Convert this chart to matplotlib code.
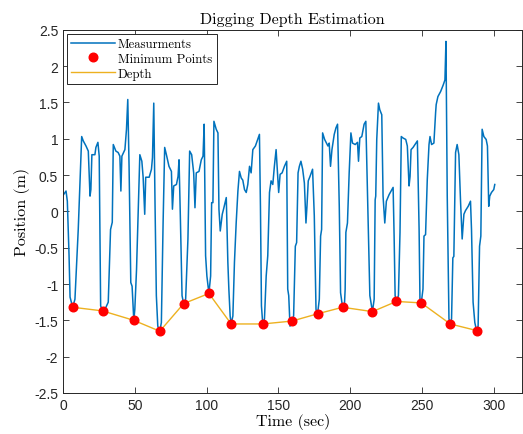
import numpy as np
import matplotlib
matplotlib.use('Agg')
import matplotlib.pyplot as plt
from matplotlib import rcParams

rcParams['font.family'] = ['Liberation Sans', 'DejaVu Sans']
rcParams['axes.unicode_minus'] = False

t_meas = [0, 2.1, 3.0, 4.2, 4.9, 6.7, 8.3, 10.6, 13.0, 14.1, 16.0, 17.6, 18.8, 19.4, 20.1, 22.2, 22.9, 24.3, 25.2,
          26.2, 27.5, 29.2, 31.5, 33.1, 34.3, 35.0, 36.8, 38.4, 39.6, 40.3, 41.0, 43.1, 44.2, 45.1, 46.0, 47.2, 48.1,
          49.3, 50.0, 51.2, 52.3, 53.5, 54.9, 55.8, 56.9, 57.6, 60.0, 61.6, 62.3, 63.2, 64.1, 65.0, 66.0, 67.4, 68.5,
          69.7, 70.8, 72.0, 73.8, 75.5, 76.2, 77.1, 79.0, 80.1, 80.8, 81.7, 82.9, 84.0, 85.4, 87.0, 88.2, 89.6, 91.0,
          91.9, 92.8, 94.7, 96.3, 97.5, 98.3, 99.3, 100.2, 101.6, 102.8, 103.5, 104.4, 105.1, 106.7, 107.9, 108.6,
          109.5, 110.9, 111.8, 113.7, 114.8, 115.5, 116.4, 117.1, 118.3, 119.4, 120.6, 121.8, 122.9, 124.1, 125.2,
          126.4, 127.6, 128.7, 129.9, 131.0, 132.2, 134.0, 135.6, 136.8, 137.5, 138.2, 139.1, 140.3, 141.5, 142.6,
          143.8, 144.9, 146.1, 147.2, 148.4, 149.1, 150.2, 151.2, 152.6, 154.2, 155.8, 156.5, 157.2, 158.1, 159.5,
          160.6, 161.8, 162.7, 163.7, 164.6, 165.7, 166.9, 168.1, 169.2, 169.9, 170.8, 172.0, 173.8, 175.0, 176.2,
          177.3, 178.5, 179.4, 180.1, 180.8, 182.2, 183.5, 184.5, 185.4, 186.3, 187.3, 188.9, 190.1, 191.2, 192.4,
          193.3, 194.7, 195.8, 196.5, 197.0, 198.1, 199.3, 200.5, 201.6, 203.5, 205.1, 205.8, 206.7, 208.1, 209.7,
          210.9, 212.0, 212.7, 213.7, 215.5, 216.7, 217.4, 217.8, 218.5, 219.7, 220.6, 222.0, 222.9, 224.1, 225.2,
          227.1, 229.0, 229.9, 230.6, 231.3, 232.2, 233.6, 234.7, 235.6, 236.8, 238.7, 239.8, 241.0, 241.7, 242.4,
          243.8, 245.1, 246.8, 248.0, 248.6, 249.5, 250.7, 251.4, 252.5, 253.7, 254.9, 255.6, 256.7, 258.3, 259.5,
          259.9, 261.1, 263.0, 264.8, 266.0, 266.7, 267.6, 268.8, 269.7, 270.6, 271.5, 272.2, 273.4, 274.5, 275.7,
          276.9, 278.0, 279.2, 280.3, 282.2, 283.8, 284.5, 285.6, 286.8, 288.0, 289.1, 290.1, 291.0, 291.9, 293.1,
          294.7, 295.6, 296.5, 297.2, 298.4, 300.0, 300.7]
pos_meas = [0.22, 0.28, 0.14, -0.61, -1.18, -1.32, -1.21, -0.25, 1.03, 0.97, 0.90, 0.83, 0.21, 0.30, 0.78, 0.78, 0.88,
            0.95, 0.76, -1.30, -1.37, -1.35, -1.25, -0.25, -0.15, 0.92, 0.83, 0.81, 0.76, 0.28, 0.76, 0.85, 1.13,
            1.54, 0.62, -0.98, -1.03, -1.50, -1.35, -0.80, -0.06, 0.78, 0.69, 0.47, -0.04, 0.47, 0.47, 0.58, 0.74,
            1.49, 0.07, -1.16, -1.58, -1.65, -1.53, -0.16, 0.88, 0.78, 0.62, 0.55, 0.03, 0.35, 0.37, 0.48, 0.71,
            -0.06, -1.16, -1.27, -1.21, -0.38, 0.83, 0.78, 0.53, 0.05, 0.53, 0.55, 0.71, 0.76, 1.20, -0.61, -0.89,
            -1.13, -0.89, 0.12, 0.12, 1.24, 1.13, 1.08, 0.03, -0.27, -0.04, 0.03, 0.19, -0.70, -1.07, -1.44, -1.55,
            -1.44, -0.70, -0.16, 0.28, 0.55, 0.46, 0.43, 0.30, 0.26, 0.37, 0.62, 0.53, 0.85, 0.90, 0.99, 1.06, 0.07,
            -1.30, -1.55, -1.48, -0.89, -0.61, 0.26, 0.42, 0.37, 0.62, 0.85, 0.62, 0.26, 0.51, 0.53, 0.62, 0.69,
            -1.07, -1.16, -1.58, -1.51, -1.44, -0.48, -0.43, 0.53, 0.62, 0.69, 0.58, 0.39, -0.16, 0.07, 0.42, 0.48,
            0.58, -0.06, -1.35, -1.41, -1.21, -0.34, -0.25, 1.08, 0.99, 0.94, 0.90, 0.94, 0.62, 0.85, 1.06, 1.15,
            1.20, 0.07, -1.12, -1.32, -1.37, -1.07, -0.29, -0.16, 0.53, 1.08, 0.94, 0.92, 0.95, 0.69, 1.01, 1.03,
            1.20, 1.24, 0.30, -0.29, -1.16, -1.38, -1.21, 0.16, 0.21, 0.99, 1.49, 1.40, 1.33, 0.21, -0.16, 0.14,
            0.23, 0.30, 0.33, -0.34, -1.16, -1.24, -1.16, -0.29, 1.03, 1.01, 0.99, 0.90, 0.35, 0.48, 0.85, 0.88,
            0.92, 0.97, -0.25, -1.21, -1.26, -1.07, -0.34, -0.32, 0.44, 0.92, 1.03, 0.92, 0.94, 1.36, 1.47, 1.58,
            1.65, 1.74, 1.81, 2.34, 0.21, -1.48, -1.55, -1.48, -0.64, -0.62, 0.81, 0.92, 0.78, 0.12, -0.38, -0.04,
            0.01, 0.07, 0.14, -0.25, -1.25, -1.53, -1.64, -1.58, -0.48, -0.34, 1.13, 1.03, 0.99, 0.90, 0.07, 0.21,
            0.26, 0.30, 0.37]

# minimum points / depth
t_min = [6.7, 27.5, 49.3, 67.4, 84.0, 101.6, 117.1, 139.1, 159.5, 177.3, 194.7, 215.5, 232.2, 249.5, 269.7, 288.0]
pos_min = [-1.32, -1.37, -1.50, -1.65, -1.27, -1.13, -1.55, -1.55, -1.51, -1.41, -1.32, -1.38, -1.24, -1.26,
           -1.55, -1.64]

x_ticks = [0, 50, 100, 150, 200, 250, 300]
y_ticks = [-2.5, -2, -1.5, -1, -0.5, 0, 0.5, 1, 1.5, 2, 2.5]

fig = plt.figure(figsize=(5.23, 4.35), dpi=100)
ax = fig.add_axes([0.1205, 0.0943, 0.8785, 0.835])

ax.plot(t_meas, pos_meas, color='#0072BD', lw=1.1, label='Measurments')
ax.plot(t_min, pos_min, 'o', color='red', ms=6.2, mec='red', label='Minimum Points', zorder=4)
ax.plot(t_min, pos_min, color='#EDB120', lw=1.0, label='Depth', zorder=3)

ax.set_xlim(0, 320)
ax.set_ylim(-2.5, 2.5)
ax.set_xticks(x_ticks)
ax.set_yticks(y_ticks)
ax.set_yticklabels(['%g' % v for v in y_ticks])
ax.tick_params(direction='in', length=4, width=0.6, labelsize=10, colors='#262626', top=True, right=True)
for s in ax.spines.values():
    s.set_linewidth(0.7)
    s.set_color('#262626')

ax.set_title('Digging Depth Estimation', fontname='cmr10', fontsize=11.5, pad=5)
ax.set_xlabel('Time (sec)', fontname='cmr10', fontsize=11.5, labelpad=1)
ax.set_ylabel('Position (m)', fontname='cmr10', fontsize=11.5, labelpad=3)

leg = ax.legend(loc='upper left', prop={'family': 'cmr10', 'size': 9.2}, fancybox=False, edgecolor='#262626',
                framealpha=1, borderpad=0.35, labelspacing=0.2, handlelength=3.4, handletextpad=0.25,
                borderaxespad=0.3)
leg.get_frame().set_linewidth(0.7)

fig.savefig('out.png', dpi=100)
